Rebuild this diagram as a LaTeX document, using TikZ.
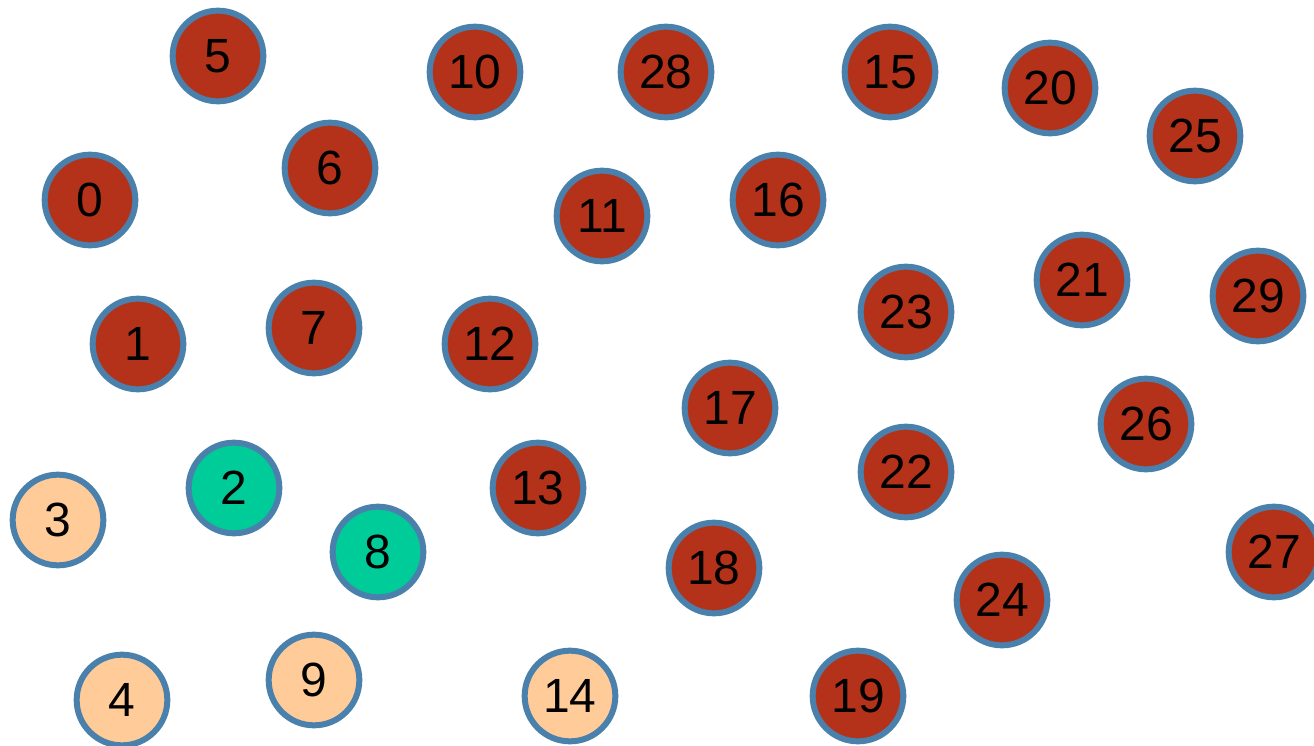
\documentclass[tikz,border=0pt]{standalone}
\usepackage{fontspec}
\setmainfont{Liberation Sans}
\definecolor{nred}{RGB}{181,50,26}
\definecolor{ngreen}{RGB}{0,204,153}
\definecolor{npeach}{RGB}{255,204,153}
\definecolor{nborder}{RGB}{74,128,172}
\begin{document}
\begin{tikzpicture}[x=0.75pt,y=-0.75pt,
  nd/.style={circle,draw=nborder,line width=4.5pt,minimum size=68pt,inner sep=0pt,font=\fontsize{36}{36}\selectfont},
  rd/.style={nd,fill=nred},
  gd/.style={nd,fill=ngreen},
  pd/.style={nd,fill=npeach}]
\path[use as bounding box] (0,0) rectangle (1314,746);
\node[rd] (n5) at (218,56) {5};
\node[rd] (n10) at (475,72) {10};
\node[rd] (n28) at (666,72) {28};
\node[rd] (n15) at (890,72) {15};
\node[rd] (n20) at (1050,88) {20};
\node[rd] (n25) at (1195,136) {25};
\node[rd] (n0) at (90,200) {0};
\node[rd] (n6) at (330,168) {6};
\node[rd] (n11) at (602,216) {11};
\node[rd] (n16) at (778,200) {16};
\node[rd] (n21) at (1082,280) {21};
\node[rd] (n29) at (1258,296) {29};
\node[rd] (n1) at (138,344) {1};
\node[rd] (n7) at (314,328) {7};
\node[rd] (n12) at (490,344) {12};
\node[rd] (n23) at (906,312) {23};
\node[rd] (n17) at (730,408) {17};
\node[rd] (n26) at (1146,424) {26};
\node[gd] (n2) at (234,488) {2};
\node[pd] (n3) at (58,520) {3};
\node[rd] (n13) at (538,488) {13};
\node[rd] (n22) at (906,472) {22};
\node[gd] (n8) at (378,552) {8};
\node[rd] (n27) at (1274,552) {27};
\node[rd] (n18) at (714,568) {18};
\node[rd] (n24) at (1002,600) {24};
\node[pd] (n4) at (122,700) {4};
\node[pd] (n9) at (314,680) {9};
\node[pd] (n14) at (570,696) {14};
\node[rd] (n19) at (858,696) {19};
\end{tikzpicture}
\end{document}
